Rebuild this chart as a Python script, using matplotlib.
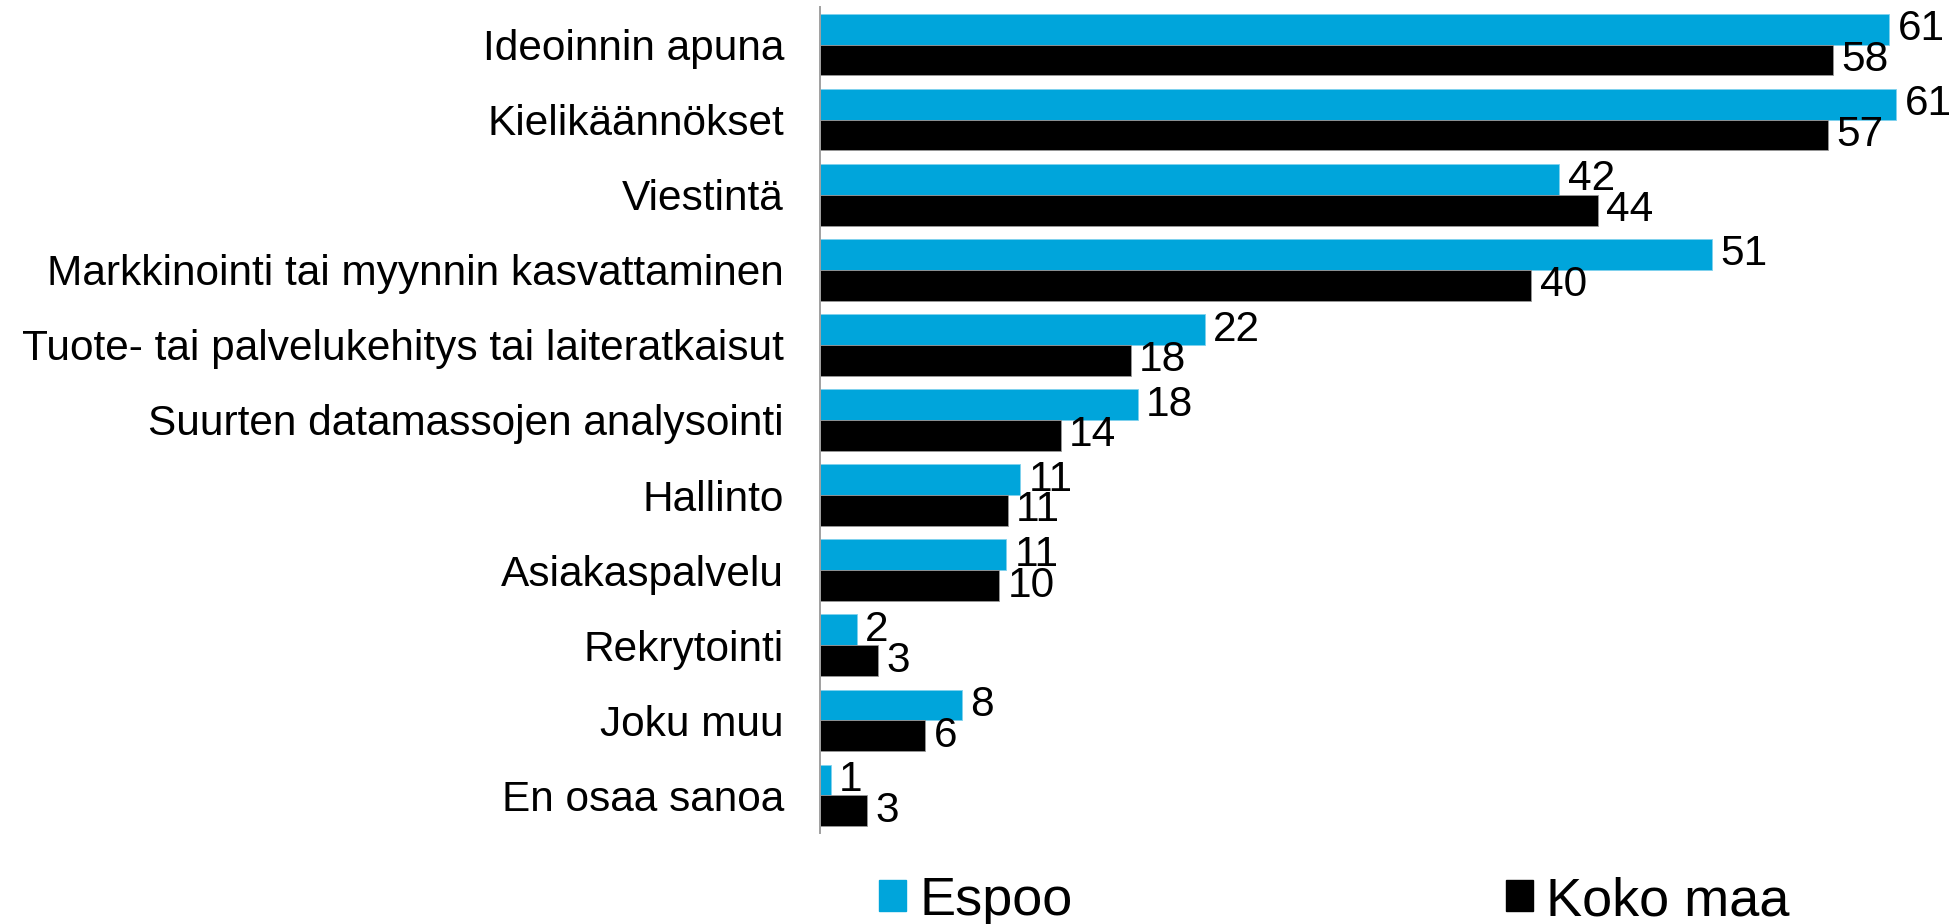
import matplotlib.pyplot as plt
from matplotlib.patches import Patch

plt.rcParams['font.family'] = ['Liberation Sans', 'DejaVu Sans']

categories = ["Ideoinnin apuna", "Kielikäännökset", "Viestintä",
              "Markkinointi tai myynnin kasvattaminen",
              "Tuote- tai palvelukehitys tai laiteratkaisut",
              "Suurten datamassojen analysointi", "Hallinto",
              "Asiakaspalvelu", "Rekrytointi", "Joku muu", "En osaa sanoa"]
# values; labels show them rounded
espoo = [60.9, 61.3, 42.1, 50.8, 21.9, 18.1, 11.4, 10.6, 2.1, 8.1, 0.6]
koko_maa = [57.7, 57.4, 44.3, 40.5, 17.7, 13.7, 10.7, 10.2, 3.3, 6.0, 2.7]

blue = '#00A5DB'
W, H = 1957, 924
fig = plt.figure(figsize=(W / 100, H / 100), dpi=100)
ax = fig.add_axes([820 / W, 1 - 833 / H, (1900 - 820) / W, (833 - 7) / H])

y = list(range(len(categories)))
h = 0.41
b1 = ax.barh([i - h / 2 for i in y], espoo, height=h, color=blue,
             edgecolor='#7fd2ee', linewidth=0.6)
b2 = ax.barh([i + h / 2 for i in y], koko_maa, height=h, color='black',
             edgecolor='#999999', linewidth=0.6)
ax.bar_label(b1, fmt='%.0f', padding=6, fontsize=30.5)
ax.bar_label(b2, fmt='%.0f', padding=6, fontsize=30.5)

ax.set_ylim(len(categories) - 0.5, -0.5)
ax.set_xlim(0, 61.5)
ax.set_yticks(y, categories, fontsize=30.5)
ax.tick_params(axis='y', length=0, pad=26)
ax.set_xticks([])
for s in ['top', 'right', 'bottom']:
    ax.spines[s].set_visible(False)
ax.spines['left'].set_color('#a0a0a0')
ax.spines['left'].set_linewidth(1.4)

handles = [Patch(color=blue, label='Espoo'), Patch(color='black', label='Koko maa')]
fig.legend(handles=handles, loc='center left', bbox_to_anchor=(879 / W, 1 - 901 / H),
           ncol=2, frameon=False, fontsize=39, handlelength=0.5, handleheight=0.5,
           handletextpad=0.24, columnspacing=8.0, borderpad=0, borderaxespad=0)

fig.savefig('out.png', dpi=100)
